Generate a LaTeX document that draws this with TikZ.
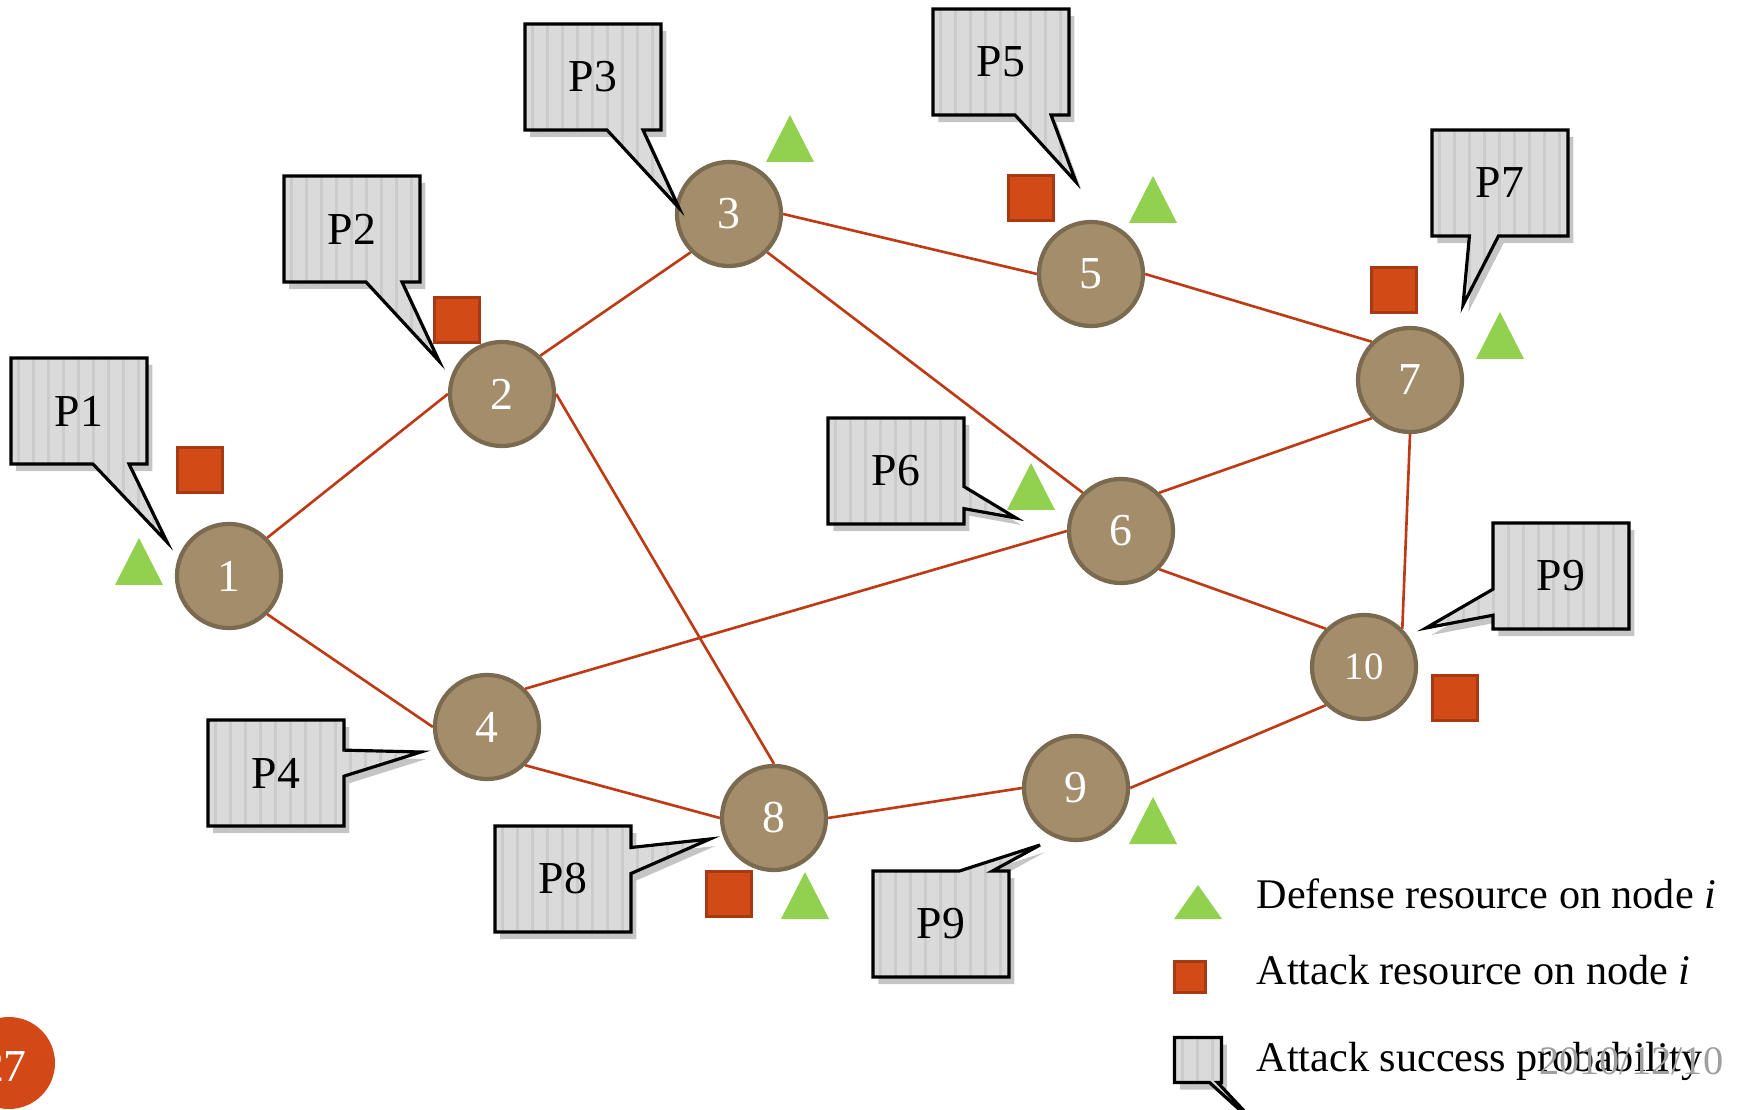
\documentclass[tikz,border=0pt]{standalone}
\usepackage{fontspec}
\setmainfont{Liberation Serif}
\usetikzlibrary{shapes.callouts, shadows, calc, positioning}

\definecolor{nodebrown}{HTML}{A48D6A}
\definecolor{nodeline}{HTML}{7A6A50}
\definecolor{edgered}{HTML}{BE3A14}
\definecolor{atkred}{HTML}{D24A16}
\definecolor{atkline}{HTML}{A63A14}
\definecolor{defgreen}{HTML}{92D050}
\definecolor{boxgray}{HTML}{DADADA}
\definecolor{boxstripe}{HTML}{CBCBCB}
\definecolor{pagered}{HTML}{D34817}

\tikzset{
  netnode/.style={circle, fill=nodebrown, draw=nodeline, line width=1.2pt,
    minimum size=1.04cm, inner sep=0pt, text=white, font=\fontsize{13}{15}\selectfont},
  link/.style={draw=edgered, line width=0.75pt},
  atk/.style={rectangle, fill=atkred, draw=atkline, line width=0.8pt,
    minimum size=0.45cm, inner sep=0pt},
  pbox/.style={rectangle callout, draw=black, line width=0.9pt, fill=boxgray,
    minimum width=1.36cm, minimum height=1.06cm, inner sep=0pt,
    font=\fontsize{13}{15}\selectfont, callout pointer width=0.34cm,
    drop shadow={shadow xshift=1.5pt, shadow yshift=-2pt, fill=black!45, opacity=0.5},
    path picture={\foreach \k in {0,...,14}
      \fill[boxstripe] ($(path picture bounding box.north west)+(\k*15+6,0)$)
        rectangle ($(path picture bounding box.south west)+(\k*15+9,0)$);}},
  legendtext/.style={anchor=west, inner sep=0pt, font=\fontsize{12}{15}\selectfont},
}

\begin{document}
\begin{tikzpicture}[x=0.01cm, y=-0.01cm]
\useasboundingbox (0,0) rectangle (1746,1110);

% network nodes
\node[netnode] (n1) at (229,576) {1};
\node[netnode] (n2) at (502,394) {2};
\node[netnode] (n3) at (729,214) {3};
\node[netnode] (n4) at (487,727) {4};
\node[netnode] (n5) at (1091,274) {5};
\node[netnode] (n6) at (1121,531) {6};
\node[netnode] (n7) at (1410,380) {7};
\node[netnode] (n8) at (774,818) {8};
\node[netnode] (n9) at (1076,788) {9};
\node[netnode, font=\fontsize{11}{13}\selectfont] (n10) at (1364,667) {10};

% links
\foreach \a/\b in {n1.north east/n2.west, n1.south east/n4.west,
                   n2.north east/n3.south west, n2.east/n8.north,
                   n3.east/n5.west, n3.south east/n6.north west,
                   n5.east/n7.north west, n4.north east/n6.west,
                   n4.south east/n8.west, n6.north east/n7.south west,
                   n6.south east/n10.north west, n7.south/n10.north east,
                   n8.east/n9.west, n9.east/n10.south west}
  \draw[link] (\a) -- (\b);

% defense resources
\foreach \x/\y in {139/562, 790/139, 1153/200, 1031/487, 1500/336, 1153/821, 805/896}
  \fill[defgreen] (\x,\y) ++(-24,23) -- ++(24,-47) -- ++(24,47) -- cycle;

% attack resources
\node[atk] (a1) at (200,470) {};
\node[atk] (a2) at (457,320) {};
\node[atk] (a5) at (1031,198) {};
\node[atk] (a7) at (1394,290) {};
\node[atk] (a10) at (1455,698) {};
\node[atk] (a8) at (729,894) {};

% attack success probabilities
\node[pbox, callout absolute pointer={(167,542)}, callout pointer width=0.36cm] (p1) at (79,411) {P1};
\node[pbox, callout absolute pointer={(439,361)}, callout pointer width=0.36cm] (p2) at (352,229) {P2};
\node[pbox, callout absolute pointer={(679,208)}, callout pointer width=0.36cm] (p3) at (593,77) {P3};
\node[pbox, callout absolute pointer={(421,752)}, callout pointer width=0.26cm] (p4) at (276,773) {P4};
\node[pbox, callout absolute pointer={(1076,182)}, callout pointer width=0.36cm] (p5) at (1001,62) {P5};
\node[pbox, callout absolute pointer={(1016,518)}, callout pointer width=0.22cm] (p6) at (896,471) {P6};
\node[pbox, callout absolute pointer={(1463,305)}, callout pointer width=0.29cm] (p7) at (1500,183) {P7};
\node[pbox, callout absolute pointer={(710,839)}, callout pointer width=0.26cm] (p8) at (563,879) {P8};
\node[pbox, callout absolute pointer={(1426,628)}, callout pointer width=0.26cm] (p9a) at (1561,576) {P9};
\node[pbox, callout absolute pointer={(1040,845)}, callout pointer width=0.33cm] (p9b) at (941,924) {P9};

% legend
\fill[defgreen] (1198,902) ++(-24,17) -- ++(24,-34) -- ++(24,34) -- cycle;
\node[atk, minimum size=0.31cm] (la) at (1190,977) {};
\node[pbox, minimum width=0.47cm, minimum height=0.45cm, callout pointer width=0.08cm,
  callout absolute pointer={(1262,1130)}] (lp) at (1198,1060) {};
\node[legendtext] (ld) at (1256,894) {Defense resource on node \textit{i}};
\node[legendtext] (lr) at (1256,970) {Attack resource on node \textit{i}};
\node[legendtext] (ls) at (1256,1061) {Attack success probability};
\node[anchor=east, inner sep=0pt, text=gray!75, font=\fontsize{11.5}{14}\selectfont] (date) at (1724,1061) {2010/12/10};

% page number
\fill[pagered] (9,1063) circle (46);
\node[text=white, font=\fontsize{13}{15}\selectfont] (pg) at (4,1066) {27};
\end{tikzpicture}
\end{document}
